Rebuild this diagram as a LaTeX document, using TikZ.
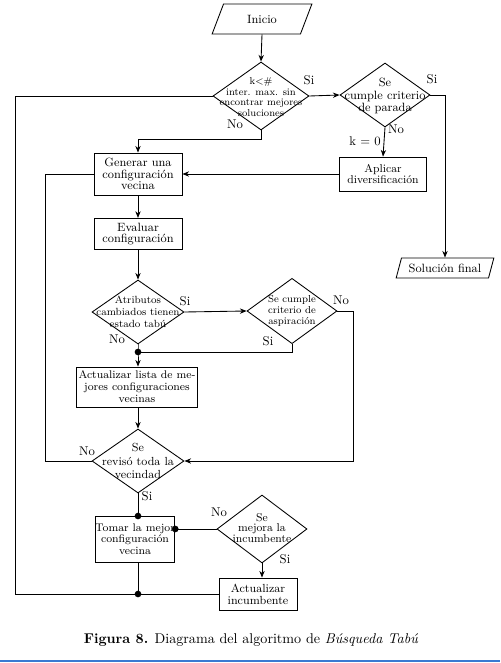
\documentclass[tikz,border=0pt]{standalone}
\usetikzlibrary{shapes.geometric,arrows.meta}
\definecolor{capblue}{RGB}{58,122,210}
\begin{document}
\begin{tikzpicture}[x=0.75pt,y=-0.75pt,
  line width=0.65pt,
  box/.style={draw, rectangle, inner sep=0pt, align=center, font=\fontsize{8.5}{8.8}\selectfont},
  dia/.style={draw, diamond, inner sep=0pt},
  dtext/.style={align=center, inner sep=0pt},
  para/.style={draw, trapezium, trapezium left angle=62, trapezium right angle=118, trapezium stretches=true, inner sep=0pt, font=\fontsize{9}{10}\selectfont},
  arr/.style={-{Stealth[length=5pt,width=4pt]}},
  lbl/.style={font=\fontsize{9.5}{10}\selectfont, inner sep=0pt},
  jdot/.style={circle, fill, inner sep=0pt, minimum size=5pt}
]
\useasboundingbox (0,0) rectangle (500,663);
\fill[white] (0,0) rectangle (500,663);

% nodes
\node[para, minimum width=75pt, minimum height=22.5pt] (inicio) at (262,19) {Inicio};
\node[dia, minimum width=72pt, minimum height=51pt] (d1) at (261,96) {};
\node[dtext, font=\fontsize{7.5}{8}\selectfont] (d1t) at (261,97) {k<\#\\inter. max. sin\\encontrar mejores\\soluciones};
\node[dia, minimum width=67.5pt, minimum height=48pt] (d2) at (385,95) {};
\node[dtext, font=\fontsize{9}{9.2}\selectfont] (d2t) at (385,96) {Se\\cumple criterio\\de parada};
\node[box, minimum width=65pt, minimum height=25.5pt] (aplicar) at (383,174) {Aplicar\\diversificación};
\node[box, font=\fontsize{9}{8.8}\selectfont, minimum width=66pt, minimum height=31.5pt] (generar) at (138,174) {Generar una\\configuración\\vecina};
\node[box, font=\fontsize{9}{8.8}\selectfont, minimum width=66pt, minimum height=23.5pt] (evaluar) at (138,234) {Evaluar\\configuración};
\node[dia, minimum width=69pt, minimum height=48pt] (d3) at (138,312) {};
\node[dtext, font=\fontsize{7.8}{8.8}\selectfont] (d3t) at (138,312) {Atributos\\cambiados tienen\\estado tabú};
\node[dia, minimum width=67.5pt, minimum height=49pt] (d5) at (292,311) {};
\node[dtext, font=\fontsize{7.6}{8.3}\selectfont] (d5t) at (292,311) {Se cumple\\criterio de\\aspiración};
\node[box, font=\fontsize{8.3}{9}\selectfont, minimum width=91pt, minimum height=30pt] (actlista) at (137,387) {Actualizar lista de me-\\jores configuraciones\\vecinas};
\node[dia, minimum width=69pt, minimum height=48pt] (d4) at (138,461) {};
\node[dtext, font=\fontsize{8.8}{10.2}\selectfont] (d4t) at (138,461) {Se\\revisó toda la\\vecindad};
\node[box, font=\fontsize{8.3}{8.8}\selectfont, minimum width=58pt, minimum height=34.5pt] (tomar) at (135,539) {Tomar la mejor\\configuración\\vecina};
\node[dia, minimum width=67.5pt, minimum height=51pt] (d6) at (262,529) {};
\node[dtext, font=\fontsize{8.5}{8}\selectfont] (d6t) at (262,528) {Se\\mejora la\\incumbente};
\node[box, font=\fontsize{8.8}{9}\selectfont, minimum width=58.5pt, minimum height=24pt] (actinc) at (258,594) {Actualizar\\incumbente};
\node[para, trapezium left angle=63, trapezium right angle=117, minimum width=73.5pt, minimum height=15pt] (sol) at (445,268) {Solución final};

% junction coordinates
\coordinate (L1) at (15,594);
\coordinate (L2) at (45,461);
\coordinate (R5) at (353,461);
\coordinate (k1) at (138,139);
\coordinate (j1) at (138,352);
\coordinate (j2) at (138,516);
\coordinate (jb) at (138,594);

% connectors
\draw[arr] (inicio.south) -- (d1.north);
\draw[arr] (d1.east) -- (d2.west);
\draw[arr] (d2.east) -| (sol.north);
\draw[arr] (d2.south) -- (aplicar.north);
\draw[arr] (aplicar.west) -- (aplicar.west -| generar.east);
\draw[arr] (d1.south) |- (k1) -- (generar.north);
\draw (d1.west) -| (L1) -- (actinc.west);
\draw (generar.west) -| (L2) -- (d4.west);
\draw[arr] (generar.south) -- (evaluar.north);
\draw[arr] (evaluar.south) -- (d3.north);
\draw[arr] (d3.east) -- (d5.west);
\draw[arr] (d5.east) -| (R5) -- (d4.east);
\draw (d5.south) |- (j1);
\draw[arr] (d3.south) -- (j1) -- (j1 |- actlista.north);
\draw[arr] (j1 |- actlista.south) -- (d4.north);
\draw (d4.south) -- (j2);
\draw (d6.west) -- (d6.west -| tomar.east);
\draw[arr] (d6.south) -- (d6.south |- actinc.north);
\draw (j2 |- tomar.south) -- (jb);

% dots
\node[jdot] (dj1) at (j1) {};
\node[jdot] (dj2) at (j2) {};
\node[jdot] (djb) at (jb) {};
\node[jdot] (dt) at (d6.west -| tomar.east) {};

% labels
\node[lbl] (s1) at (309,80) {Si};
\node[lbl] (n1) at (235,124) {No};
\node[lbl] (s2) at (432,79) {Si};
\node[lbl] (n2) at (396,129) {No};
\node[lbl] (k0) at (365,141) {k = 0};
\node[lbl] (s3) at (185,301) {Si};
\node[lbl] (n3) at (117,339) {No};
\node[lbl] (n5) at (341,300) {No};
\node[lbl] (s5) at (268,341) {Si};
\node[lbl] (n4) at (87,451) {No};
\node[lbl] (s4) at (147,496) {Si};
\node[lbl] (n6) at (219,512) {No};
\node[lbl] (s6) at (285,559) {Si};

% caption
\node[inner sep=0pt, font=\fontsize{10.6}{12}\selectfont] (cap) at (251,640) {\textbf{Figura 8.} Diagrama del algoritmo de \textit{Búsqueda Tabú}};
\draw[capblue, line width=2.2pt] (0,661) -- (500,661);
\end{tikzpicture}
\end{document}
